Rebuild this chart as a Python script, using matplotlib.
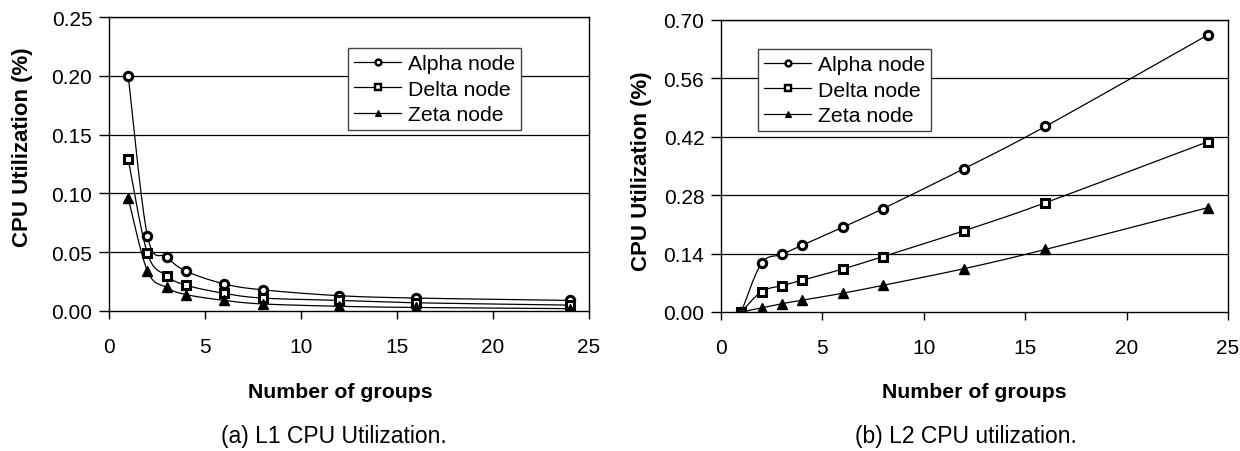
import numpy as np
import matplotlib
matplotlib.use('Agg')
import matplotlib.pyplot as plt
from matplotlib import font_manager

# Datos
groups = [1, 2, 3, 4, 6, 8, 12, 16, 24]
series_names = ['Alpha node', 'Delta node', 'Zeta node']

# (a) L1
l1_alpha = [0.200, 0.064, 0.046, 0.034, 0.023, 0.018, 0.013, 0.011, 0.009]
l1_delta = [0.129, 0.049, 0.030, 0.022, 0.015, 0.011, 0.009, 0.007, 0.005]
l1_zeta = [0.096, 0.034, 0.020, 0.014, 0.009, 0.006, 0.004, 0.003, 0.002]

# (b) L2
l2_alpha = [0.0, 0.117, 0.138, 0.160, 0.203, 0.248, 0.344, 0.445, 0.664]
l2_delta = [0.0, 0.049, 0.063, 0.076, 0.103, 0.133, 0.195, 0.262, 0.408]
l2_zeta = [0.0, 0.010, 0.020, 0.028, 0.045, 0.064, 0.104, 0.150, 0.250]

l1_yticks = [0.00, 0.05, 0.10, 0.15, 0.20, 0.25]
l2_yticks = [0.00, 0.14, 0.28, 0.42, 0.56, 0.70]
xticks = [0, 5, 10, 15, 20, 25]

font = 'Liberation Sans'
names = {f.name for f in font_manager.fontManager.ttflist}
narrow = 'Liberation Sans Narrow' if 'Liberation Sans Narrow' in names else font
plt.rcParams['font.family'] = [font, 'DejaVu Sans']


def smooth(x, y, n=30):
    # Curva suavizada tipo Excel (Catmull-Rom) solo para dibujar la linea
    x = np.asarray(x, float)
    y = np.asarray(y, float)
    px = np.concatenate([[x[0]], x, [x[-1]]])
    py = np.concatenate([[y[0]], y, [y[-1]]])
    xs, ys = [], []
    t = np.linspace(0, 1, n)
    for i in range(1, len(px) - 2):
        p0, p1, p2, p3 = (np.array([px[j], py[j]]) for j in range(i - 1, i + 3))
        c1 = p1 + (p2 - p0) / 6
        c2 = p2 - (p3 - p1) / 6
        b = ((1 - t) ** 3)[:, None] * p1 + (3 * (1 - t) ** 2 * t)[:, None] * c1 \
            + (3 * (1 - t) * t ** 2)[:, None] * c2 + (t ** 3)[:, None] * p2
        xs.extend(b[:, 0])
        ys.extend(b[:, 1])
    return xs, ys


styles = [
    dict(marker='o', markerfacecolor='white', markeredgecolor='black', markersize=6, markeredgewidth=2.2),
    dict(marker='s', markerfacecolor='white', markeredgecolor='black', markersize=6, markeredgewidth=2.2),
    dict(marker='^', markerfacecolor='black', markeredgecolor='black', markersize=6.5, markeredgewidth=1),
]

fig = plt.figure(figsize=(12.4, 4.52), dpi=100)
ax1 = fig.add_axes([109 / 1240, 1 - 312 / 452, 480 / 1240, 294 / 452])
ax2 = fig.add_axes([721 / 1240, 1 - 313 / 452, 507 / 1240, 292 / 452])


def draw(ax, data, yticks, leg_anchor):
    for vals, name, st in zip(data, series_names, styles):
        sx, sy = smooth(groups, vals)
        ax.plot(sx, sy, color='black', lw=0.9, zorder=3)
        ax.plot(groups, vals, linestyle='none', zorder=4, **st)
        leg_st = dict(st)
        leg_st['markersize'] = st['markersize'] * 0.7
        leg_st['markeredgewidth'] = st['markeredgewidth'] * 0.8
        ax.plot([], [], color='black', lw=0.9, label=name, **leg_st)
    ax.set_xlim(0, 25)
    ax.set_ylim(yticks[0], yticks[-1])
    ax.set_xticks(xticks)
    ax.set_yticks(yticks)
    ax.set_yticklabels(['%.2f' % v for v in yticks])
    for v in yticks[1:]:
        ax.axhline(v, color='black', lw=0.9, zorder=1)
    for s in ax.spines.values():
        s.set_color('black')
        s.set_linewidth(1)
    ax.tick_params(axis='y', direction='out', length=7, width=1, labelsize=15, pad=5)
    ax.tick_params(axis='x', direction='out', length=6, width=1, labelsize=15, pad=13)
    leg = ax.legend(loc='upper left', bbox_to_anchor=leg_anchor, fontsize=15.3,
                    frameon=True, fancybox=False, edgecolor='#444444', framealpha=1,
                    handlelength=2.2, handletextpad=0.3, labelspacing=0.3,
                    borderpad=0.3, borderaxespad=0)
    leg.get_frame().set_linewidth(1)
    leg.set_zorder(5)


draw(ax1, [l1_alpha, l1_delta, l1_zeta], l1_yticks, (0.498, 0.895))
draw(ax2, [l2_alpha, l2_delta, l2_zeta], l2_yticks, (0.073, 0.901))

# Etiquetas
for xc, yc in [(23, 147), (642, 171)]:
    fig.text(xc / 1240, 1 - yc / 452, 'CPU Utilization (%)', rotation=90,
             ha='center', va='center', fontsize=16, fontweight='bold')
for xc in [340, 974]:
    fig.text(xc / 1240, 1 - 393 / 452, 'Number of groups', ha='center', va='center',
             fontsize=15.3, fontweight='bold')
fig.text(334 / 1240, 1 - 437 / 452, '(a) L1 CPU Utilization.', ha='center', va='center',
         fontsize=16.5, family=[narrow, 'DejaVu Sans'])
fig.text(966 / 1240, 1 - 437 / 452, '(b) L2 CPU utilization.', ha='center', va='center',
         fontsize=16.5, family=[narrow, 'DejaVu Sans'])

fig.savefig('out.png', dpi=100)
